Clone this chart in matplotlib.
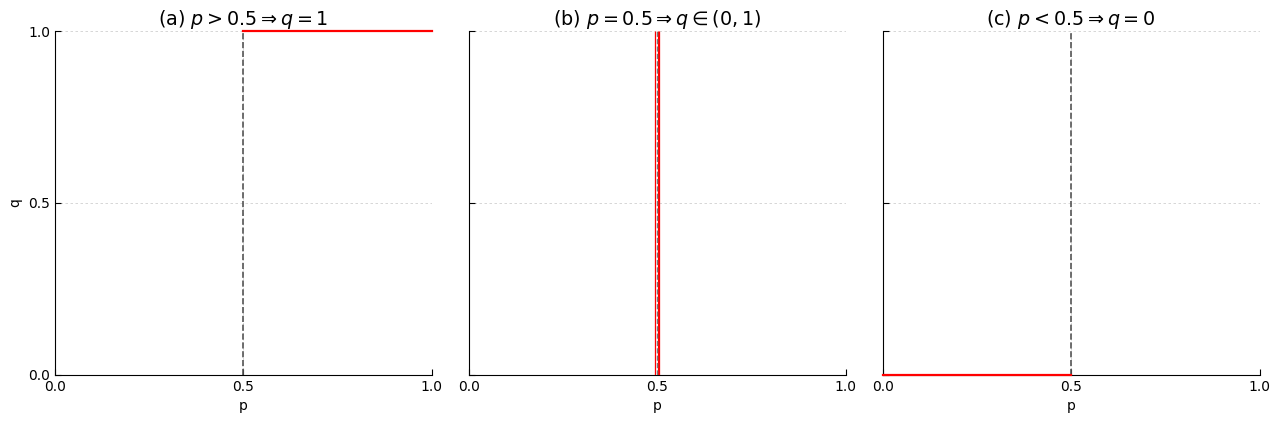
import matplotlib
matplotlib.use("Agg")
import matplotlib.pyplot as plt

titles = [r"(a) $p > 0.5 \Rightarrow q = 1$",
          r"(b) $p = 0.5 \Rightarrow q \in (0, 1)$",
          r"(c) $p < 0.5 \Rightarrow q = 0$"]
threshold = 0.5
# best-response segments per panel: (p values, q values)
seg_a_p = [0.5, 1.0]; seg_a_q = [1.0, 1.0]
seg_b_p = [0.5, 0.5]; seg_b_q = [0.0, 1.0]
seg_c_p = [0.0, 0.5]; seg_c_q = [0.0, 0.0]
segments = [(seg_a_p, seg_a_q), (seg_b_p, seg_b_q), (seg_c_p, seg_c_q)]
ticks = [0.0, 0.5, 1.0]

fig, axes = plt.subplots(1, 3, figsize=(12.8, 4.21), dpi=100, sharey=True)
fig.subplots_adjust(left=0.043, right=0.984, bottom=0.11, top=0.926, wspace=0.098)

for i, (ax, title, (sp, sq)) in enumerate(zip(axes, titles, segments)):
    ax.set_xlim(0, 1)
    ax.set_ylim(0, 1)
    ax.set_xticks(ticks)
    ax.set_yticks(ticks)
    ax.grid(True, linestyle=(0, (3, 3)), color="#d0d0d0", linewidth=0.6)
    ax.tick_params(direction="in", labelsize=10, length=4)
    for s in ["top", "right"]:
        ax.spines[s].set_visible(False)
    if i == 1:
        ax.plot(sp, sq, color="red", linewidth=3.8, solid_capstyle="butt", zorder=3)
        ax.plot(sp, sq, color="white", linewidth=1.3, solid_capstyle="butt", zorder=4)
        ax.axvline(threshold, color="#777777", linestyle="--", linewidth=1.0, zorder=5)
    else:
        ax.axvline(threshold, color="#555555", linestyle="--", linewidth=1.2, zorder=2)
        ax.plot(sp, sq, color="red", linewidth=1.6, clip_on=False, zorder=5)
    ax.set_title(title, fontsize=13.8, pad=4)
    ax.set_xlabel("p", fontsize=10)
axes[0].set_ylabel("q", fontsize=10)

fig.savefig("out.png", dpi=100)
